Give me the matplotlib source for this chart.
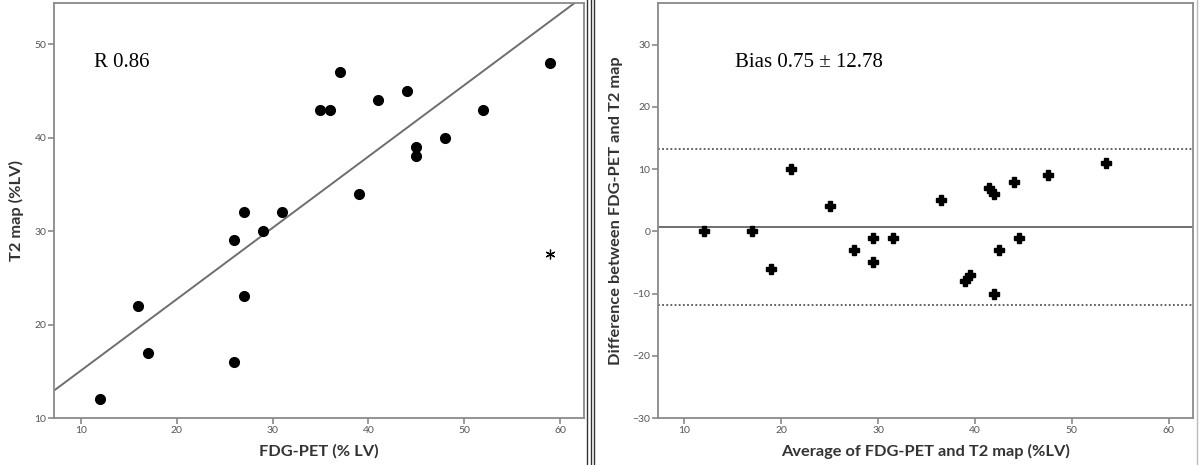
"""Correlation and Bland-Altman plot: FDG-PET vs T2 map (%LV)."""

import matplotlib
matplotlib.use("Agg")
import matplotlib.pyplot as plt
import numpy as np
from matplotlib.lines import Line2D

# paired measurements (% LV)
fdg_pet = [12, 16, 17, 26, 26, 27, 27, 29, 31, 35, 36, 37, 39, 41, 44, 45, 45, 48, 52, 59]
t2_map = [12, 22, 17, 29, 16, 32, 23, 30, 32, 43, 43, 47, 34, 44, 45, 39, 38, 40, 43, 48]

# outlier drawn with an asterisk on the correlation plot
outlier_x = [59]
outlier_y = [27.5]

r_label = "R 0.86"
bias_label = "Bias 0.75 \u00b1 12.78"

x_ticks = [10, 20, 30, 40, 50, 60]
left_yticks = [10, 20, 30, 40, 50]
right_yticks = [-30, -20, -10, 0, 10, 20, 30]

SPINE = "#8a8a8a"
TICKTXT = "#555555"
LINE = "#6e6e6e"
LABEL_SIZE = 11.8

plt.rcParams["font.family"] = ["Lato", "DejaVu Sans"]

fig = plt.figure(figsize=(12, 4.65), dpi=100)
ax1 = fig.add_axes([54 / 1200, 47 / 465, 530 / 1200, 415 / 465])
ax2 = fig.add_axes([658 / 1200, 47 / 465, 535 / 1200, 415 / 465])


def style(ax):
    for s in ax.spines.values():
        s.set_color(SPINE)
        s.set_linewidth(1.3)
    ax.tick_params(direction="out", length=4, width=1.2, color=SPINE,
                   labelsize=7.5, labelcolor=TICKTXT, pad=1.5)


# --- left: correlation
x = np.array(fdg_pet, dtype=float)
y = np.array(t2_map, dtype=float)
slope, icept = np.polyfit(x, y, 1)

ax1.set_xlim(7.2, 62.5)
ax1.set_ylim(10, 54.4)
xx = np.array(ax1.get_xlim())
ax1.plot(xx, icept + slope * xx, color=LINE, lw=1.4, zorder=1)
ax1.plot(x, y, "o", color="black", ms=7, zorder=3)
ax1.plot(outlier_x, outlier_y, marker=(6, 2, 0), color="black", ms=7,
         mew=0.9, ls="none", zorder=3)
ax1.text(11.4, 48.0, r_label, family="Liberation Serif", fontsize=15,
         ha="left", va="center")
ax1.set_xticks(x_ticks)
ax1.set_yticks(left_yticks)
ax1.set_xlabel("FDG-PET (% LV)", fontsize=LABEL_SIZE, fontweight="bold", color="#333333")
ax1.set_ylabel("T2 map (%LV)", fontsize=LABEL_SIZE, fontweight="bold", color="#333333")
ax1.xaxis.set_label_coords(0.5, -0.063)
ax1.yaxis.set_label_coords(-0.057, 0.5)
style(ax1)

# --- right: Bland-Altman
avg = (x + y) / 2
diff = x - y
bias = diff.mean()
loa = 1.96 * diff.std(ddof=1)

ax2.set_xlim(7.3, 62.5)
ax2.set_ylim(-30, 36.7)
ax2.axhline(bias, color=LINE, lw=1.4, zorder=1)
ax2.axhline(bias + loa, color="#555555", lw=1.3, ls=(0, (1, 1.3)), zorder=1)
ax2.axhline(bias - loa, color="#555555", lw=1.3, ls=(0, (1, 1.3)), zorder=1)
ax2.plot(avg, diff, "P", color="black", ms=6.5, zorder=3)
ax2.text(15.2, 27.2, bias_label, family="Liberation Serif", fontsize=15,
         ha="left", va="center")
ax2.set_xticks(x_ticks)
ax2.set_yticks(right_yticks)
ax2.set_xlabel("Average of FDG-PET and T2 map (%LV)", fontsize=LABEL_SIZE,
               fontweight="bold", color="#333333")
ax2.set_ylabel("Difference between FDG-PET and T2 map", fontsize=LABEL_SIZE,
               fontweight="bold", color="#333333")
ax2.xaxis.set_label_coords(0.5, -0.063)
ax2.yaxis.set_label_coords(-0.065, 0.5)
style(ax2)

# panel separator
for px in (587, 591, 594):
    fig.add_artist(Line2D([px / 1200, px / 1200], [0, 1], color="#333333",
                          lw=1.0, transform=fig.transFigure))
fig.add_artist(Line2D([1197 / 1200, 1197 / 1200], [0, 1], color="#bbbbbb",
                      lw=1.0, transform=fig.transFigure))

fig.savefig("out.png", dpi=100)
